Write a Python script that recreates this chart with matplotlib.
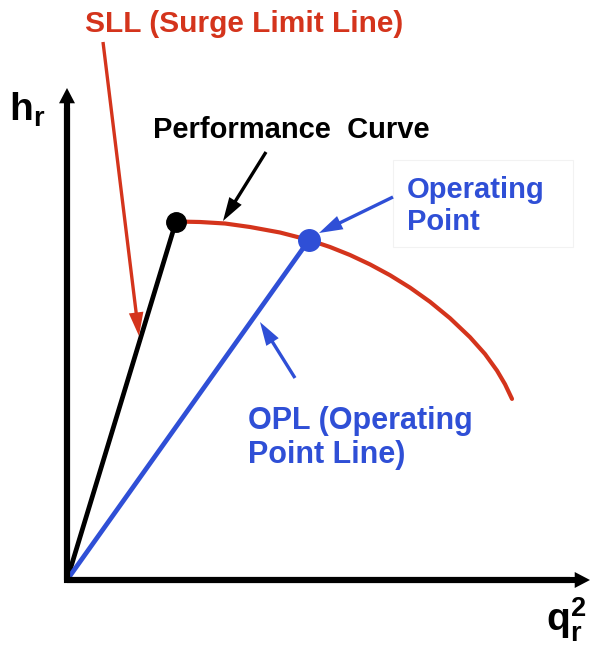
import numpy as np
import matplotlib
matplotlib.use("Agg")
import matplotlib.pyplot as plt
from matplotlib.patches import FancyArrowPatch, Rectangle

plt.rcParams['font.family'] = ['Liberation Sans', 'DejaVu Sans']
plt.rcParams['font.weight'] = 'bold'
plt.rcParams['mathtext.fontset'] = 'custom'
plt.rcParams['mathtext.rm'] = 'Liberation Sans'
plt.rcParams['mathtext.bf'] = 'Liberation Sans:bold'

RED = '#d4341c'
BLUE = '#2f4fd6'

# schematic data (origin at axis corner, units ~ pixels)
sll_x = [0, 109]
sll_y = [0, 358.5]
opl_x = [0, 242]
opl_y = [0, 340]
curve_x = [109, 133, 158, 183, 213, 242, 263, 283, 303, 323, 343, 363,
           383, 403, 418, 430, 438, 445]
curve_y = [358.5, 358, 356.5, 353, 347.5, 340, 333, 325, 315.6, 304.8, 292.4, 278.2,
           261.8, 242.8, 226, 209.4, 195.8, 181.1]
surge_pt = (109, 358.5)
op_pt = (242, 340)
x_end = 523
y_end = 492


def px(x, y):
    # image pixel position -> data position
    return (x - 67, 580 - y)


fig = plt.figure(figsize=(5.92, 6.45), dpi=100)
ax = fig.add_axes([0, 0, 1, 1])
ax.set_xlim(-67, 525)
ax.set_ylim(-65, 580)
ax.axis('off')

# axes with arrows
ax.plot([0, 0, x_end - 20], [y_end - 20, 0, 0], color='black', lw=4.4,
        solid_joinstyle='miter', solid_capstyle='butt', zorder=3)
for end in [(x_end, 0), (0, y_end)]:
    ax.add_patch(FancyArrowPatch((0, 0), end,
                                 arrowstyle='simple,head_length=1.1,head_width=1.15,tail_width=0.44',
                                 mutation_scale=10, lw=0, color='black',
                                 shrinkA=0, shrinkB=0, zorder=3))

ax.plot(sll_x, sll_y, color='black', lw=3.4, solid_capstyle='round', zorder=2)
ax.plot(opl_x, opl_y, color=BLUE, lw=3.4, solid_capstyle='round', zorder=2)
ax.plot(curve_x, curve_y, color=RED, lw=3.0, solid_capstyle='round',
        solid_joinstyle='round', zorder=2)
ax.plot(*surge_pt, 'o', color='black', ms=14, zorder=4)
ax.plot(*op_pt, 'o', color=BLUE, ms=15.5, zorder=4)


def arrow(p0, p1, color):
    ax.add_patch(FancyArrowPatch(px(*p0), px(*p1),
                                 arrowstyle='simple,head_length=1.7,head_width=1.05,tail_width=0.24',
                                 mutation_scale=10, lw=0, color=color,
                                 shrinkA=0, shrinkB=0, zorder=5))


arrow((103, 42), (139, 336), RED)
arrow((266, 152), (223, 221), 'black')
arrow((393, 197), (319, 233), BLUE)
arrow((295, 378), (260, 322), BLUE)

ax.add_patch(Rectangle(px(393, 247), 180, 87, fc='white', ec='#f2f2f2', lw=0.8, zorder=1))

ax.text(*px(85, 24), 'SLL (Surge Limit Line)', color=RED, fontsize=21.5, va='center', ha='left')
ax.text(*px(153, 130), 'Performance  Curve', color='black', fontsize=21, va='center', ha='left')
ax.text(*px(407, 206), 'Operating\nPoint', color=BLUE, fontsize=21, va='center', ha='left',
        linespacing=1.17, zorder=2)
ax.text(*px(248, 438), 'OPL (Operating\nPoint Line)', color=BLUE, fontsize=22, va='center', ha='left',
        linespacing=1.2)
ax.text(*px(9, 110), r'$\mathbf{h_r}$', color='black', fontsize=28, va='center', ha='left')
ax.text(*px(546, 620), r'$\mathbf{q_r^2}$', color='black', fontsize=28, va='center', ha='left')

fig.savefig('out.png', dpi=100)
